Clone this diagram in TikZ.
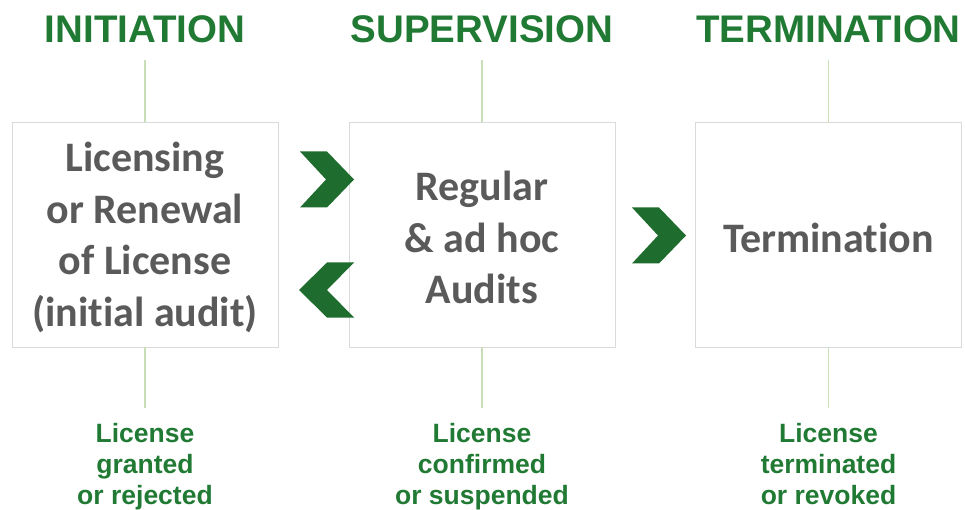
\documentclass[tikz,border=0pt]{standalone}
\usepackage{fontspec}
\setmainfont{Liberation Sans}
\newfontfamily\boxfont[Ligatures={NoCommon,NoRequired,NoContextual}]{Carlito}
\definecolor{hdrgreen}{HTML}{217A34}
\definecolor{chevgreen}{HTML}{1E6C2E}
\definecolor{boxtext}{HTML}{5A5A5A}
\definecolor{boxline}{HTML}{DADADA}
\definecolor{stem}{HTML}{C8DEB6}
\begin{document}
\begin{tikzpicture}[x=1pt,y=-1pt,
  header/.style={text=hdrgreen,font=\fontsize{38.5}{46}\selectfont\bfseries,inner sep=0pt,anchor=base},
  stagebox/.style={draw=boxline,line width=0.8pt,fill=white,minimum width=266pt,minimum height=225pt,inner sep=0pt},
  stagetext/.style={text=boxtext,font=\boxfont\fontsize{42}{51.5}\selectfont\bfseries,align=center,inner sep=0pt,yshift=-3pt},
  outcome/.style={text=hdrgreen,font=\fontsize{26.5}{31}\selectfont\bfseries,align=center,inner sep=0pt,anchor=north},
  stemline/.style={draw=stem,line width=1.6pt},
  chev/.style={fill=chevgreen,draw=none}]
\useasboundingbox (0,0) rectangle (965,510);
% headers
\node[header] (h1) at (145,43) {INITIATION};
\node[header] (h2) at (482,43) {SUPERVISION};
\node[header] (h3) at (828.5,43) {TERMINATION};
% boxes
\node[stagebox] (b1) at (145,234.5) {};
\node[stagebox] (b2) at (482,234.5) {};
\node[stagebox] (b3) at (828.5,234.5) {};
\node[stagetext] (l1) at (b1.center) {Licensing\\or Renewal\\of License\\(initial audit)};
\node[stagetext] (l2) at (b2.center) {Regular\\\& ad hoc\\Audits};
\node[stagetext] (l3) at (b3.center) {Termination};
% stem endpoints
\coordinate (t1) at (145,60);
\coordinate (t2) at (482,60);
\coordinate (t3) at (828.5,60);
\coordinate (u1) at (145,408);
\coordinate (u2) at (482,408);
\coordinate (u3) at (828.5,408);
\draw[stemline] (t1) -- (b1.north);
\draw[stemline] (t2) -- (b2.north);
\draw[stemline] (t3) -- (b3.north);
\draw[stemline] (b1.south) -- (u1);
\draw[stemline] (b2.south) -- (u2);
\draw[stemline] (b3.south) -- (u3);
% outcomes
\node[outcome] (o1) at (145,423) {License\\granted\\or rejected};
\node[outcome] (o2) at (482,423) {License\\confirmed\\or suspended};
\node[outcome] (o3) at (828.5,423) {License\\terminated\\or revoked};
% chevrons
\fill[chev] (300,151.5) -- (327,151.5) -- (354,179.5) -- (327,207.5) -- (300,207.5) -- (326,179.5) -- cycle;
\fill[chev] (354,262.5) -- (327,262.5) -- (299,290) -- (327,317.5) -- (354,317.5) -- (327,290) -- cycle;
\fill[chev] (632,207.5) -- (659,207.5) -- (686,235.5) -- (659,263.5) -- (632,263.5) -- (658,235.5) -- cycle;
\end{tikzpicture}
\end{document}
